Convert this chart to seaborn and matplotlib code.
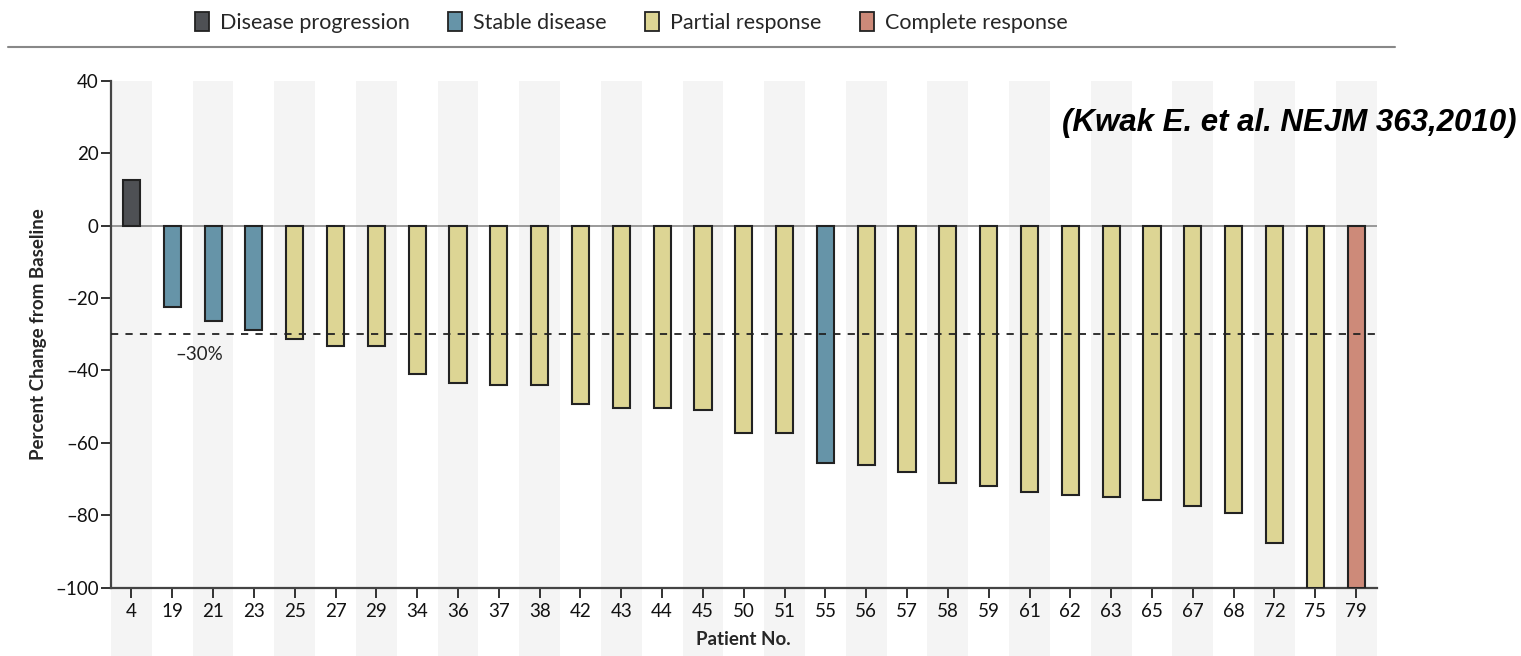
import pandas as pd
import numpy as np
import seaborn as sns
import matplotlib.pyplot as plt
from matplotlib.patches import Patch
from matplotlib.lines import Line2D

# datos
pacientes = ['4', '19', '21', '23', '25', '27', '29', '34', '36', '37', '38', '42', '43', '44', '45',
             '50', '51', '55', '56', '57', '58', '59', '61', '62', '63', '65', '67', '68', '72', '75', '79']
cambio = [12.5, -22.5, -26.4, -28.9, -31.3, -33.3, -33.3, -41.0, -43.5, -44.0, -44.0, -49.4, -50.5, -50.5, -51.0,
          -57.3, -57.3, -65.6, -66.0, -68.0, -71.0, -71.9, -73.5, -74.4, -74.9, -75.9, -77.3, -79.4, -87.7, -100, -100]
respuesta = ['Disease progression', 'Stable disease', 'Stable disease', 'Stable disease'] + \
            ['Partial response'] * 13 + ['Stable disease'] + ['Partial response'] * 12 + ['Complete response']
categorias = ['Disease progression', 'Stable disease', 'Partial response', 'Complete response']
colores = ['#4e5054', '#6694a8', '#ddd594', '#cd8a79']

df = pd.DataFrame({'Paciente': pacientes, 'Cambio': cambio, 'Respuesta': respuesta})
paleta = dict(zip(categorias, colores))

sns.set_style('white')
plt.rcParams['font.family'] = ['Lato', 'DejaVu Sans']

fig = plt.figure(figsize=(15.21, 6.56), dpi=100)
ax = fig.add_axes([0.073, 0.104, 0.832, 0.773])

# bandas grises alternas
for i in range(0, len(pacientes), 2):
    ax.axvspan(i - 0.5, i + 0.5, ymin=-0.14, ymax=1, color='#f4f4f4', zorder=0, clip_on=False, lw=0)

sns.barplot(data=df, x='Paciente', y='Cambio', hue='Respuesta', palette=paleta, order=pacientes,
            hue_order=categorias, dodge=False, width=0.42, edgecolor='#222222', linewidth=1.5,
            saturation=1, legend=False, ax=ax, zorder=3)

ax.axhline(0, color='#888888', lw=1.2, zorder=2)
ax.axhline(-30, color='#222222', lw=1.3, ls=(0, (4, 4)), zorder=4)
ax.text(1.65, -35.5, '\u201330%', fontsize=13.5, ha='center', va='center', color='#222222')

ax.set_xlim(-0.5, len(pacientes) - 0.5)
ax.set_ylim(-100, 40)
ax.set_yticks(np.arange(-100, 41, 20))
ax.set_yticklabels([str(v).replace('-', '\u2013') for v in range(-100, 41, 20)], fontsize=13.5)
ax.tick_params(axis='x', labelsize=13.5, labelcolor='#111111', length=7, width=1.3, color='#222222',
               bottom=True, pad=4)
ax.tick_params(axis='y', labelcolor='#111111', length=7, width=1.3, color='#222222', left=True, pad=2)
for s in ['top', 'right']:
    ax.spines[s].set_visible(False)
for s in ['left', 'bottom']:
    ax.spines[s].set_color('#444444')
    ax.spines[s].set_linewidth(1.6)

ax.set_xlabel('Patient No.', fontsize=13.5, fontweight='bold', labelpad=8)
ax.set_ylabel('Percent Change from Baseline', fontsize=13.5, fontweight='bold', labelpad=6)

# leyenda arriba
handles = [Patch(facecolor=c, edgecolor='#222222', lw=1.3) for c in colores]
fig.legend(handles, categorias, loc='center', bbox_to_anchor=(0.415, 0.966), ncol=4, frameon=False,
           fontsize=15.5, handlelength=0.65, handleheight=1.0, handletextpad=0.5, columnspacing=1.8)
fig.add_artist(Line2D([0.005, 0.917], [0.928, 0.928], color='#888888', lw=1.5))

fig.text(0.997, 0.812, '(Kwak E. et al. NEJM 363,2010)', ha='right', va='center', fontsize=22.5,
         fontweight='bold', fontstyle='italic', color='black', family=['Liberation Sans', 'DejaVu Sans'])

plt.savefig('out.png', dpi=100)
